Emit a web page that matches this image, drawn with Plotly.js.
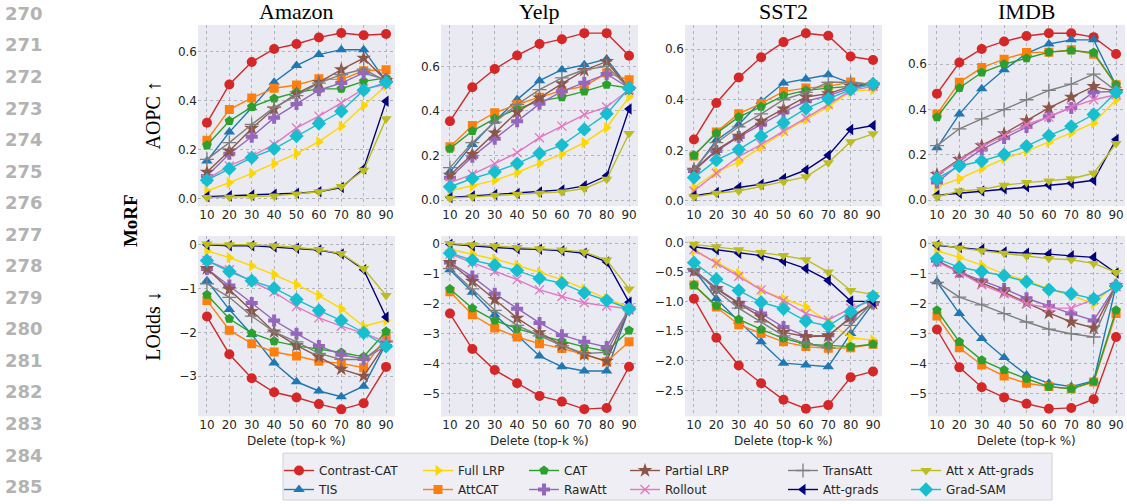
<!DOCTYPE html>
<html><head><meta charset="utf-8">
<script src="https://cdn.plot.ly/plotly-3.0.1.min.js"></script>
<style>html,body{margin:0;padding:0;background:#fff;} #chart{width:1127px;height:504px;}</style>
</head><body><div id="chart"></div>
<script>
// ---------- DATA ----------
const deletePct = [10,20,30,40,50,60,70,80,90];
const methods = ['Contrast-CAT','TIS','Full LRP','AttCAT','CAT','RawAtt','Partial LRP','Rollout','TransAtt','Att-grads','Att x Att-grads','Grad-SAM'];
const datasets = ['Amazon','Yelp','SST2','IMDB'];
const lineNumbers = ['270','271','272','273','274','275','276','277','278','279','280','281','282','283','284','285'];

// rows follow the order of `methods`
const amazonAOPC = [
  [0.309,0.465,0.557,0.610,0.630,0.657,0.675,0.666,0.671],
  [0.153,0.271,0.370,0.474,0.542,0.587,0.607,0.607,0.478],
  [0.031,0.065,0.103,0.142,0.183,0.232,0.295,0.379,0.460],
  [0.238,0.363,0.410,0.450,0.463,0.488,0.485,0.521,0.525],
  [0.217,0.316,0.374,0.408,0.433,0.447,0.448,0.478,0.492],
  [0.092,0.183,0.252,0.329,0.386,0.442,0.471,0.512,0.485],
  [0.108,0.194,0.286,0.366,0.428,0.474,0.526,0.573,0.481],
  [0.079,0.133,0.173,0.221,0.288,0.336,0.390,0.447,0.465],
  [0.160,0.228,0.302,0.372,0.420,0.471,0.505,0.528,0.478],
  [0.008,0.011,0.014,0.018,0.022,0.028,0.045,0.122,0.397],
  [0.004,0.005,0.008,0.011,0.019,0.028,0.049,0.115,0.325],
  [0.075,0.122,0.167,0.203,0.255,0.306,0.356,0.442,0.474]
];
const yelpAOPC = [
  [0.354,0.506,0.588,0.649,0.700,0.722,0.749,0.749,0.648],
  [0.127,0.250,0.354,0.451,0.536,0.585,0.607,0.633,0.503],
  [0.042,0.064,0.089,0.124,0.165,0.208,0.258,0.325,0.463],
  [0.240,0.335,0.392,0.429,0.462,0.491,0.511,0.570,0.540],
  [0.231,0.310,0.366,0.409,0.444,0.462,0.488,0.518,0.503],
  [0.101,0.195,0.275,0.354,0.432,0.488,0.526,0.566,0.503],
  [0.112,0.205,0.302,0.395,0.459,0.523,0.582,0.622,0.496],
  [0.079,0.116,0.164,0.213,0.280,0.332,0.384,0.418,0.496],
  [0.146,0.258,0.350,0.429,0.496,0.548,0.585,0.600,0.503],
  [0.012,0.019,0.025,0.030,0.037,0.046,0.064,0.109,0.409],
  [0.009,0.015,0.022,0.027,0.031,0.037,0.052,0.094,0.299],
  [0.060,0.097,0.127,0.164,0.210,0.247,0.317,0.387,0.503]
];
const sst2AOPC = [
  [0.243,0.387,0.488,0.568,0.628,0.663,0.653,0.571,0.557],
  [0.120,0.240,0.302,0.394,0.466,0.482,0.499,0.466,0.456],
  [0.053,0.114,0.154,0.213,0.272,0.322,0.372,0.433,0.440],
  [0.177,0.272,0.345,0.385,0.433,0.446,0.453,0.470,0.460],
  [0.180,0.267,0.332,0.372,0.416,0.437,0.446,0.453,0.460],
  [0.118,0.197,0.253,0.302,0.351,0.394,0.416,0.446,0.460],
  [0.122,0.201,0.256,0.315,0.364,0.411,0.424,0.453,0.460],
  [0.039,0.109,0.175,0.223,0.276,0.328,0.381,0.437,0.453],
  [0.125,0.230,0.293,0.344,0.400,0.429,0.469,0.469,0.460],
  [0.020,0.033,0.053,0.066,0.088,0.122,0.180,0.282,0.298],
  [0.016,0.030,0.039,0.059,0.076,0.095,0.151,0.234,0.265],
  [0.092,0.161,0.203,0.256,0.309,0.365,0.403,0.440,0.463]
];
const imdbAOPC = [
  [0.470,0.607,0.667,0.700,0.724,0.736,0.736,0.719,0.645],
  [0.231,0.380,0.492,0.575,0.648,0.689,0.707,0.707,0.506],
  [0.059,0.095,0.140,0.183,0.217,0.256,0.297,0.341,0.443],
  [0.380,0.520,0.585,0.622,0.651,0.653,0.663,0.644,0.509],
  [0.366,0.495,0.563,0.600,0.626,0.653,0.660,0.651,0.509],
  [0.078,0.158,0.224,0.275,0.323,0.370,0.407,0.476,0.480],
  [0.114,0.180,0.241,0.294,0.351,0.407,0.455,0.502,0.480],
  [0.110,0.176,0.236,0.285,0.334,0.367,0.411,0.443,0.465],
  [0.241,0.315,0.359,0.400,0.443,0.484,0.512,0.556,0.483],
  [0.022,0.031,0.041,0.051,0.060,0.067,0.075,0.088,0.268],
  [0.015,0.041,0.048,0.066,0.078,0.085,0.095,0.119,0.250],
  [0.095,0.151,0.173,0.202,0.239,0.285,0.326,0.378,0.476]
];
const amazonLOdds = [
  [-1.64,-2.50,-3.05,-3.37,-3.49,-3.64,-3.76,-3.62,-2.79],
  [-0.82,-1.48,-2.05,-2.70,-3.13,-3.34,-3.47,-3.23,-2.26],
  [-0.14,-0.29,-0.48,-0.68,-0.91,-1.16,-1.46,-1.86,-1.73],
  [-1.27,-1.95,-2.26,-2.45,-2.54,-2.66,-2.71,-2.81,-2.11],
  [-1.14,-1.69,-2.02,-2.20,-2.31,-2.39,-2.46,-2.56,-1.98],
  [-0.55,-0.93,-1.33,-1.73,-2.03,-2.31,-2.51,-2.61,-2.31],
  [-0.54,-1.02,-1.52,-1.99,-2.30,-2.56,-2.84,-3.00,-2.24],
  [-0.36,-0.57,-0.84,-1.08,-1.41,-1.67,-1.86,-2.02,-2.22],
  [-0.89,-1.20,-1.63,-1.99,-2.22,-2.48,-2.62,-2.62,-2.22],
  [0.00,-0.02,-0.02,-0.05,-0.08,-0.12,-0.21,-0.57,-1.65],
  [0.02,0.00,0.00,-0.02,-0.06,-0.11,-0.20,-0.54,-1.16],
  [-0.36,-0.61,-0.82,-0.99,-1.25,-1.50,-1.73,-2.01,-2.32]
];
const yelpLOdds = [
  [-2.33,-3.51,-4.21,-4.65,-5.07,-5.26,-5.51,-5.47,-4.10],
  [-0.87,-1.62,-2.37,-3.05,-3.74,-4.10,-4.24,-4.24,-2.17],
  [-0.19,-0.35,-0.52,-0.72,-0.96,-1.20,-1.51,-1.84,-2.11],
  [-1.60,-2.37,-2.81,-3.11,-3.33,-3.49,-3.69,-3.93,-3.27],
  [-1.51,-2.15,-2.56,-2.83,-3.05,-3.25,-3.44,-3.58,-2.89],
  [-0.63,-1.10,-1.67,-2.17,-2.64,-3.05,-3.27,-3.44,-2.17],
  [-0.63,-1.26,-1.86,-2.48,-2.96,-3.38,-3.69,-3.91,-2.17],
  [-0.35,-0.63,-0.93,-1.20,-1.54,-1.76,-1.97,-2.08,-2.17],
  [-0.83,-1.51,-2.22,-2.72,-3.07,-3.40,-3.66,-3.62,-2.17],
  [-0.02,-0.08,-0.13,-0.17,-0.19,-0.24,-0.32,-0.61,-1.95],
  [0.00,-0.04,-0.08,-0.13,-0.17,-0.21,-0.28,-0.55,-1.51],
  [-0.32,-0.55,-0.72,-0.90,-1.16,-1.32,-1.64,-1.89,-2.17]
];
const sst2LOdds = [
  [-0.95,-1.61,-2.08,-2.38,-2.66,-2.81,-2.75,-2.28,-2.18],
  [-0.46,-0.95,-1.33,-1.68,-2.04,-2.07,-2.10,-1.54,-1.03],
  [-0.14,-0.34,-0.53,-0.81,-0.95,-1.09,-1.34,-1.61,-1.65],
  [-0.72,-1.09,-1.39,-1.54,-1.68,-1.76,-1.79,-1.78,-1.72],
  [-0.72,-1.07,-1.30,-1.47,-1.62,-1.72,-1.74,-1.76,-1.72],
  [-0.46,-0.77,-1.02,-1.20,-1.43,-1.58,-1.57,-1.28,-1.03],
  [-0.48,-0.78,-1.03,-1.26,-1.52,-1.59,-1.58,-1.26,-1.03],
  [-0.12,-0.35,-0.57,-0.80,-0.98,-1.20,-1.31,-1.11,-0.98],
  [-0.45,-0.81,-1.11,-1.34,-1.58,-1.71,-1.78,-1.40,-1.01],
  [-0.07,-0.12,-0.18,-0.22,-0.31,-0.44,-0.64,-0.99,-1.00],
  [-0.03,-0.07,-0.12,-0.17,-0.22,-0.29,-0.50,-0.81,-0.88],
  [-0.34,-0.62,-0.81,-1.01,-1.12,-1.33,-1.41,-1.17,-0.91]
];
const imdbLOdds = [
  [-2.86,-4.12,-4.78,-5.12,-5.33,-5.50,-5.47,-5.18,-3.11],
  [-1.27,-2.33,-3.16,-3.79,-4.37,-4.65,-4.76,-4.57,-1.40],
  [-0.24,-0.46,-0.72,-1.01,-1.23,-1.51,-1.73,-2.00,-1.34],
  [-2.41,-3.47,-4.04,-4.41,-4.65,-4.76,-4.83,-4.61,-2.33],
  [-2.22,-3.27,-3.88,-4.21,-4.50,-4.76,-4.83,-4.59,-2.22],
  [-0.57,-0.94,-1.23,-1.51,-1.82,-2.08,-2.33,-2.56,-1.40],
  [-0.57,-0.96,-1.31,-1.62,-1.97,-2.31,-2.61,-2.81,-1.40],
  [-0.61,-0.96,-1.37,-1.67,-2.00,-2.15,-2.15,-1.86,-1.42],
  [-1.29,-1.78,-2.04,-2.33,-2.61,-2.85,-3.00,-3.11,-1.40],
  [-0.06,-0.13,-0.19,-0.28,-0.32,-0.35,-0.41,-0.46,-0.98],
  [-0.02,-0.15,-0.24,-0.32,-0.41,-0.50,-0.54,-0.66,-0.96],
  [-0.50,-0.79,-0.93,-1.07,-1.27,-1.53,-1.67,-1.84,-1.42]
];
const panels = [amazonAOPC, yelpAOPC, sst2AOPC, imdbAOPC, amazonLOdds, yelpLOdds, sst2LOdds, imdbLOdds];

// ---------- STYLE ----------
const W = 1127, H = 504;
const px = v => v / W, py = v => 1 - v / H;
const colors  = ['#d62728','#1f77b4','#ffd700','#ff7f0e','#2ca02c','#9467bd','#8c564b','#e377c2','#7f7f7f','#000080','#bcbd22','#17becf'];
const symbols = ['circle','triangle-up','triangle-right','square','pentagon','cross','star','x-thin-open','cross-thin-open','triangle-left','triangle-down','diamond'];
const sizes   = [10,10,10,9,10,10,11,9,10,10,10,11];
const colX = [[198,395],[441,638],[685,882],[928,1125]];
const rowY = [[25,207],[237,418]];
const yRanges = [[-0.031,0.708],[-0.027,0.786],[-0.021,0.696],[-0.026,0.773],
                 [-3.92,0.2],[-5.75,0.25],[-2.94,0.11],[-5.75,0.25]];
const legendCols = [288,427,533,634,792,915];
const tickFont = {family:'DejaVu Sans', size:12, color:'#262626'};

const traces = [];
const layout = {
  width: W, height: H, margin:{l:0,r:0,t:0,b:0},
  paper_bgcolor:'#ffffff', plot_bgcolor:'#eaeaf2',
  showlegend: true, annotations: [], shapes: []
};

panels.forEach((panel, p) => {
  const col = p % 4, row = Math.floor(p / 4);
  const ax = p === 0 ? '' : String(p + 1);
  layout['xaxis' + ax] = {
    domain:[px(colX[col][0]), px(colX[col][1])], anchor:'y' + ax,
    range:[6,94], tickvals: deletePct, ticktext: deletePct.map(String),
    showgrid:true, gridcolor:'#b4b4bc', griddash:'dot', gridwidth:1,
    zeroline:false, showline:false, ticks:'', tickfont: tickFont, fixedrange:true
  };
  const yax = {
    domain:[py(rowY[row][1]), py(rowY[row][0])], anchor:'x' + ax,
    range: yRanges[p],
    showgrid:true, gridcolor:'#b4b4bc', griddash:'dot', gridwidth:1,
    zeroline:false, showline:false, ticks:'', tickfont: tickFont, fixedrange:true
  };
  if (row === 0) { yax.dtick = 0.2; yax.tick0 = 0; yax.tickformat = '.1f'; }
  else if (p === 6) { yax.dtick = 0.5; yax.tick0 = 0; yax.tickformat = '.1f'; }
  else { yax.dtick = 1; yax.tick0 = 0; yax.tickformat = 'd'; }
  layout['yaxis' + ax] = yax;

  panel.forEach((vals, m) => {
    const thin = symbols[m].indexOf('thin') >= 0;
    traces.push({
      type:'scatter', mode:'lines+markers', x: deletePct, y: vals,
      xaxis:'x' + ax, yaxis:'y' + ax, name: methods[m],
      line:{color: colors[m], width:1.4},
      marker:{symbol: symbols[m], size: sizes[m], color: colors[m],
              line:{color: colors[m], width: thin ? 1.3 : 0}},
      showlegend: p === 0,
      legend: Math.floor(m / 2) === 0 ? 'legend' : 'legend' + (Math.floor(m / 2) + 1),
      hoverinfo:'skip'
    });
  });
});

// legends: 6 columns of 2 entries
legendCols.forEach((x0, i) => {
  const key = i === 0 ? 'legend' : 'legend' + (i + 1);
  layout[key] = {
    x: px(x0 - 9), y: py(458), xanchor:'left', yanchor:'top',
    orientation:'v', bgcolor:'rgba(0,0,0,0)', borderwidth:0,
    font:{family:'DejaVu Sans', size:12, color:'#262626'},
    tracegroupgap:0
  };
});

// legend frame
layout.shapes.push({type:'rect', xref:'paper', yref:'paper',
  x0: px(283), x1: px(1052), y0: py(502), y1: py(455),
  fillcolor:'#eeeef4', line:{color:'#cfcfd4', width:1}, layer:'below'});

// subplot titles
datasets.forEach((d, i) => {
  layout.annotations.push({text: d, xref:'paper', yref:'paper',
    x: px((colX[i][0] + colX[i][1]) / 2), y: py(12), xanchor:'center', yanchor:'middle',
    showarrow:false, font:{family:'Liberation Serif', size:22, color:'#000'}});
  layout.annotations.push({text:'Delete (top-k %)', xref:'paper', yref:'paper',
    x: px((colX[i][0] + colX[i][1]) / 2), y: py(443), xanchor:'center', yanchor:'middle',
    showarrow:false, font:{family:'DejaVu Sans', size:12, color:'#262626'}});
});
// row labels
layout.annotations.push({text:'AOPC ↑', xref:'paper', yref:'paper', x: px(153), y: py(116),
  textangle:-90, showarrow:false, xanchor:'center', yanchor:'middle',
  font:{family:'Liberation Serif', size:20, color:'#000'}});
layout.annotations.push({text:'LOdds ↓', xref:'paper', yref:'paper', x: px(153), y: py(327),
  textangle:-90, showarrow:false, xanchor:'center', yanchor:'middle',
  font:{family:'Liberation Serif', size:20, color:'#000'}});
layout.annotations.push({text:'<b>MoRF</b>', xref:'paper', yref:'paper', x: px(130), y: py(222),
  textangle:-90, showarrow:false, xanchor:'center', yanchor:'middle',
  font:{family:'Liberation Serif', size:19, color:'#000'}});
// page line numbers
lineNumbers.forEach((t, i) => {
  layout.annotations.push({text: t, xref:'paper', yref:'paper', x: px(3), y: py(13.5 + i * 31.67),
    xanchor:'left', yanchor:'middle', showarrow:false,
    font:{family:'DejaVu Sans', size:18, color:'#b3b3b3', weight:'bold'}});
});

Plotly.newPlot('chart', traces, layout, {displayModeBar:false, staticPlot:true});
</script>
</body></html>
